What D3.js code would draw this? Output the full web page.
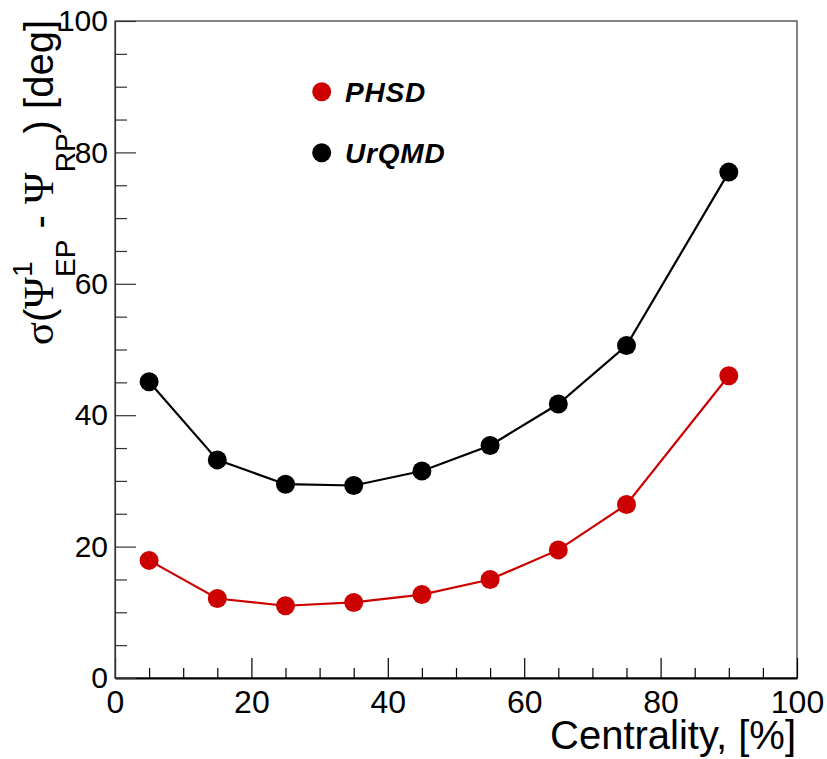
<!DOCTYPE html>
<html>
<head>
<meta charset="utf-8">
<script src="https://cdn.jsdelivr.net/npm/d3@7"></script>
<style>
  html, body { margin: 0; padding: 0; background: #fff; }
  svg { display: block; }
  text { font-family: "Liberation Sans", Arial, Helvetica, sans-serif; }
</style>
</head>
<body>
<div id="chart"></div>
<script>
// ---- data ----
const centrality = [5, 15, 25, 35, 45, 55, 65, 75, 90];
const phsd  = [17.9, 12.1, 11.0, 11.5, 12.7, 15.0, 19.5, 26.4, 46.0];
const urqmd = [45.1, 33.2, 29.5, 29.3, 31.5, 35.4, 41.7, 50.6, 77.0];
const seriesNames = ["PHSD", "UrQMD"];
const xMajorTicks = [0, 20, 40, 60, 80, 100];
const yMajorTicks = [0, 20, 40, 60, 80, 100];
const xMinorTicks = d3.range(0, 101, 5).filter(v => v % 20 !== 0);
const yMinorTicks = d3.range(0, 101, 5).filter(v => v % 20 !== 0);

(function () {
const W = 827, H = 759;
const mLeft = 115, mRight = 797, mTop = 21, mBottom = 678;

const svg = d3.select("#chart").append("svg").attr("width", W).attr("height", H);

const x = d3.scaleLinear().domain([0, 100]).range([mLeft, mRight]);
const y = d3.scaleLinear().domain([0, 100]).range([mBottom, mTop]);

// frame
svg.append("rect").attr("x", mLeft).attr("y", mTop)
  .attr("width", mRight - mLeft).attr("height", mBottom - mTop)
  .attr("fill", "none").attr("stroke", "#333").attr("stroke-width", 1.2);

// x axis major
const gx = svg.append("g").attr("transform", `translate(0,${mBottom})`)
  .call(d3.axisBottom(x).tickValues(xMajorTicks).tickSizeInner(-20).tickSizeOuter(0).tickPadding(12).tickFormat(d3.format("d")));
gx.select(".domain").attr("stroke", "#000").attr("stroke-width", 2);
gx.selectAll(".tick line").attr("stroke", "#000").attr("stroke-width", 1.2);
gx.selectAll(".tick text").attr("font-size", 32).attr("fill", "#000")
  .attr("font-family", "'Liberation Sans', Arial, sans-serif");

const gxm = svg.append("g").attr("transform", `translate(0,${mBottom})`)
  .call(d3.axisBottom(x).tickValues(xMinorTicks).tickSizeInner(-10).tickSizeOuter(0).tickFormat(""));
gxm.select(".domain").remove();
gxm.selectAll(".tick line").attr("stroke", "#000").attr("stroke-width", 1.2);

// y axis major
const gy = svg.append("g").attr("transform", `translate(${mLeft},0)`)
  .call(d3.axisLeft(y).tickValues(yMajorTicks).tickSizeInner(-21).tickSizeOuter(0).tickPadding(7).tickFormat(d3.format("d")));
gy.select(".domain").attr("stroke", "#333").attr("stroke-width", 1.2);
gy.selectAll(".tick line").attr("stroke", "#333").attr("stroke-width", 1.2);
gy.selectAll(".tick text").attr("font-size", 30).attr("fill", "#000")
  .attr("font-family", "'Liberation Sans', Arial, sans-serif");

const gym = svg.append("g").attr("transform", `translate(${mLeft},0)`)
  .call(d3.axisLeft(y).tickValues(yMinorTicks).tickSizeInner(-12).tickSizeOuter(0).tickFormat(""));
gym.select(".domain").remove();
gym.selectAll(".tick line").attr("stroke", "#333").attr("stroke-width", 1.2);

// series
const series = [
  { name: seriesNames[0], values: phsd, color: "#cc0000" },
  { name: seriesNames[1], values: urqmd, color: "#000000" }
];
const line = d3.line().x(d => x(d[0])).y(d => y(d[1]));
series.forEach(s => {
  const pts = centrality.map((c, i) => [c, s.values[i]]);
  svg.append("path").datum(pts).attr("d", line)
    .attr("fill", "none").attr("stroke", s.color).attr("stroke-width", 2.2);
  svg.append("g").selectAll("circle").data(pts).join("circle")
    .attr("cx", d => x(d[0])).attr("cy", d => y(d[1])).attr("r", 9.5)
    .attr("fill", s.color);
});

// legend
const legY = [91.7, 152.7];
series.forEach((s, i) => {
  svg.append("circle").attr("cx", 321.7).attr("cy", legY[i]).attr("r", 9.5).attr("fill", s.color);
  svg.append("text").attr("x", 345).attr("y", legY[i] + 10)
    .attr("font-size", 28).attr("font-weight", "bold").attr("font-style", "italic")
    .attr("letter-spacing", 0.8)
    .attr("fill", "#000").text(s.name);
});

// x title
svg.append("text").attr("x", 796).attr("y", 749).attr("text-anchor", "end")
  .attr("font-size", 40).attr("fill", "#000").text("Centrality, [%]");

// y title
const yt = svg.append("g").attr("transform", "translate(53,20) rotate(-90)")
  .append("text").attr("text-anchor", "end").attr("font-size", 40).attr("fill", "#000");
const serif = "'Liberation Serif', 'DejaVu Serif', serif";
yt.append("tspan").attr("font-family", serif).attr("font-size", 43).text("σ");
yt.append("tspan").text("(");
yt.append("tspan").attr("font-family", serif).attr("font-size", 43).text("Ψ");
yt.append("tspan").attr("font-size", 28).attr("dy", -21).text("1");
yt.append("tspan").attr("font-size", 28).attr("dx", -15.6).attr("dy", 43).text("EP");
yt.append("tspan").attr("dy", -22).text(" - ");
yt.append("tspan").attr("font-family", serif).attr("font-size", 43).text("Ψ");
yt.append("tspan").attr("font-size", 28).attr("dy", 22).text("RP");
yt.append("tspan").attr("dy", -22).text(") [deg]");
})();
</script>
</body>
</html>
